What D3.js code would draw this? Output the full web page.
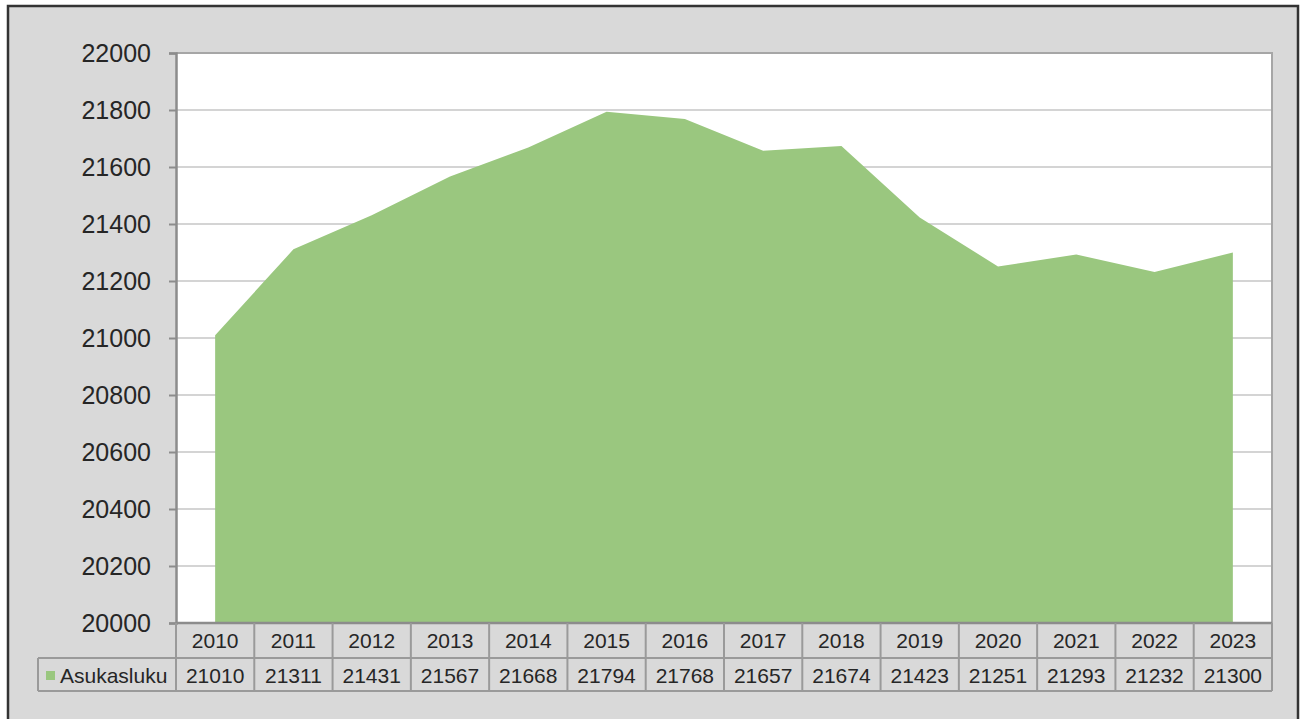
<!DOCTYPE html>
<html>
<head>
<meta charset="utf-8">
<script src="https://cdn.jsdelivr.net/npm/d3@7"></script>
<style>
  html, body { margin: 0; padding: 0; background: #fff; }
  svg text { font-family: "Liberation Sans", Arial, sans-serif; fill: #262626; }
</style>
</head>
<body>
<svg id="chart" width="1302" height="719"></svg>
<script>
var years = ["2010", "2011", "2012", "2013", "2014", "2015", "2016", "2017", "2018", "2019", "2020", "2021", "2022", "2023"];
var asukasluku = [21010, 21311, 21431, 21567, 21668, 21794, 21768, 21657, 21674, 21423, 21251, 21293, 21232, 21300];
var seriesName = "Asukasluku";
var yTicks = [20000, 20200, 20400, 20600, 20800, 21000, 21200, 21400, 21600, 21800, 22000];

var svg = d3.select("#chart"),
	margin = {top: 53, right: 30, bottom: 96, left: 176},
	width = +svg.attr("width") - margin.left - margin.right,
	height = +svg.attr("height") - margin.top - margin.bottom,
	green = "#9ac77f";

// background + outer frame
svg.append("rect")
	.attr("x", 0).attr("y", 0)
	.attr("width", 1302).attr("height", 719)
	.attr("fill", "#fff");
svg.append("rect")
	.attr("x", 8).attr("y", 6)
	.attr("width", 1290).attr("height", 720)
	.attr("fill", "#d9d9d9")
	.attr("stroke", "#333")
	.attr("stroke-width", 2.5);

var x = d3.scaleBand()
	.domain(years)
	.range([0, width]);

var y = d3.scaleLinear()
	.domain([20000, 22000])
	.range([height, 0]);

var g = svg.append("g").attr("transform", "translate(" + margin.left + "," + margin.top + ")");

g.append("rect")
	.attr("width", width)
	.attr("height", height)
	.attr("fill", "#fff");

// grid
g.append("g")
	.attr("class", "grid")
	.selectAll("line")
	.data(yTicks.slice(1, -1))
	.enter().append("line")
	.attr("x1", 0).attr("x2", width)
	.attr("y1", function(d) { return y(d); })
	.attr("y2", function(d) { return y(d); })
	.attr("stroke", "#d4d4d4")
	.attr("stroke-width", 2);

var area = d3.area()
	.x(function(d, i) { return x(years[i]) + x.bandwidth() / 2; })
	.y0(y(20000))
	.y1(function(d) { return y(d); });

g.append("path")
	.datum(asukasluku)
	.attr("d", area)
	.attr("fill", green);

// plot frame (top and right)
g.append("path")
	.attr("d", "M0,0H" + width + "V" + height)
	.attr("fill", "none")
	.attr("stroke", "#a6a6a6")
	.attr("stroke-width", 2);

// y axis
var yAxis = d3.axisLeft(y)
	.tickValues(yTicks)
	.tickSize(7)
	.tickPadding(18)
	.tickFormat(d3.format("d"));

var gY = g.append("g").attr("class", "axis y").call(yAxis);
gY.select(".domain").attr("stroke", "#8c8c8c").attr("stroke-width", 2.5);
gY.selectAll(".tick line").attr("stroke", "#8c8c8c").attr("stroke-width", 2);
gY.selectAll(".tick text")
	.style("font-size", "25px")
	.attr("fill", "#262626");

// bottom axis line
g.append("line")
	.attr("x1", 0).attr("x2", width)
	.attr("y1", height).attr("y2", height)
	.attr("stroke", "#8c8c8c")
	.attr("stroke-width", 2.5);

// data table
var row1 = height, row2 = height + 35, row3 = height + 68,
	legendLeft = 38 - margin.left,
	lineColor = "#9a9a9a";
var tbl = g.append("g").attr("class", "table");

// horizontal lines
tbl.append("line").attr("x1", legendLeft).attr("x2", width).attr("y1", row2).attr("y2", row2)
	.attr("stroke", lineColor).attr("stroke-width", 2);
tbl.append("line").attr("x1", legendLeft).attr("x2", width).attr("y1", row3).attr("y2", row3)
	.attr("stroke", lineColor).attr("stroke-width", 2);
tbl.append("line").attr("x1", legendLeft).attr("x2", legendLeft).attr("y1", row2).attr("y2", row3)
	.attr("stroke", lineColor).attr("stroke-width", 2);

// vertical lines at category boundaries
tbl.selectAll(".vline")
	.data(years.concat(["end"]))
	.enter().append("line")
	.attr("class", "vline")
	.attr("x1", function(d, i) { return i < years.length ? x(d) : width; })
	.attr("x2", function(d, i) { return i < years.length ? x(d) : width; })
	.attr("y1", row1).attr("y2", row3)
	.attr("stroke", lineColor)
	.attr("stroke-width", 2);

tbl.selectAll(".yr")
	.data(years)
	.enter().append("text")
	.attr("class", "yr")
	.attr("x", function(d) { return x(d) + x.bandwidth() / 2; })
	.attr("y", row1 + 25)
	.attr("text-anchor", "middle")
	.style("font-size", "21px")
	.text(function(d) { return d; });

tbl.selectAll(".val")
	.data(asukasluku)
	.enter().append("text")
	.attr("class", "val")
	.attr("x", function(d, i) { return x(years[i]) + x.bandwidth() / 2; })
	.attr("y", row2 + 25)
	.attr("text-anchor", "middle")
	.style("font-size", "21px")
	.text(function(d) { return d; });

tbl.append("rect")
	.attr("x", legendLeft + 8)
	.attr("y", row2 + 13)
	.attr("width", 9).attr("height", 9)
	.attr("fill", green);
tbl.append("text")
	.attr("x", legendLeft + 22)
	.attr("y", row2 + 25)
	.style("font-size", "21px")
	.text(seriesName);
</script>
</body>
</html>
